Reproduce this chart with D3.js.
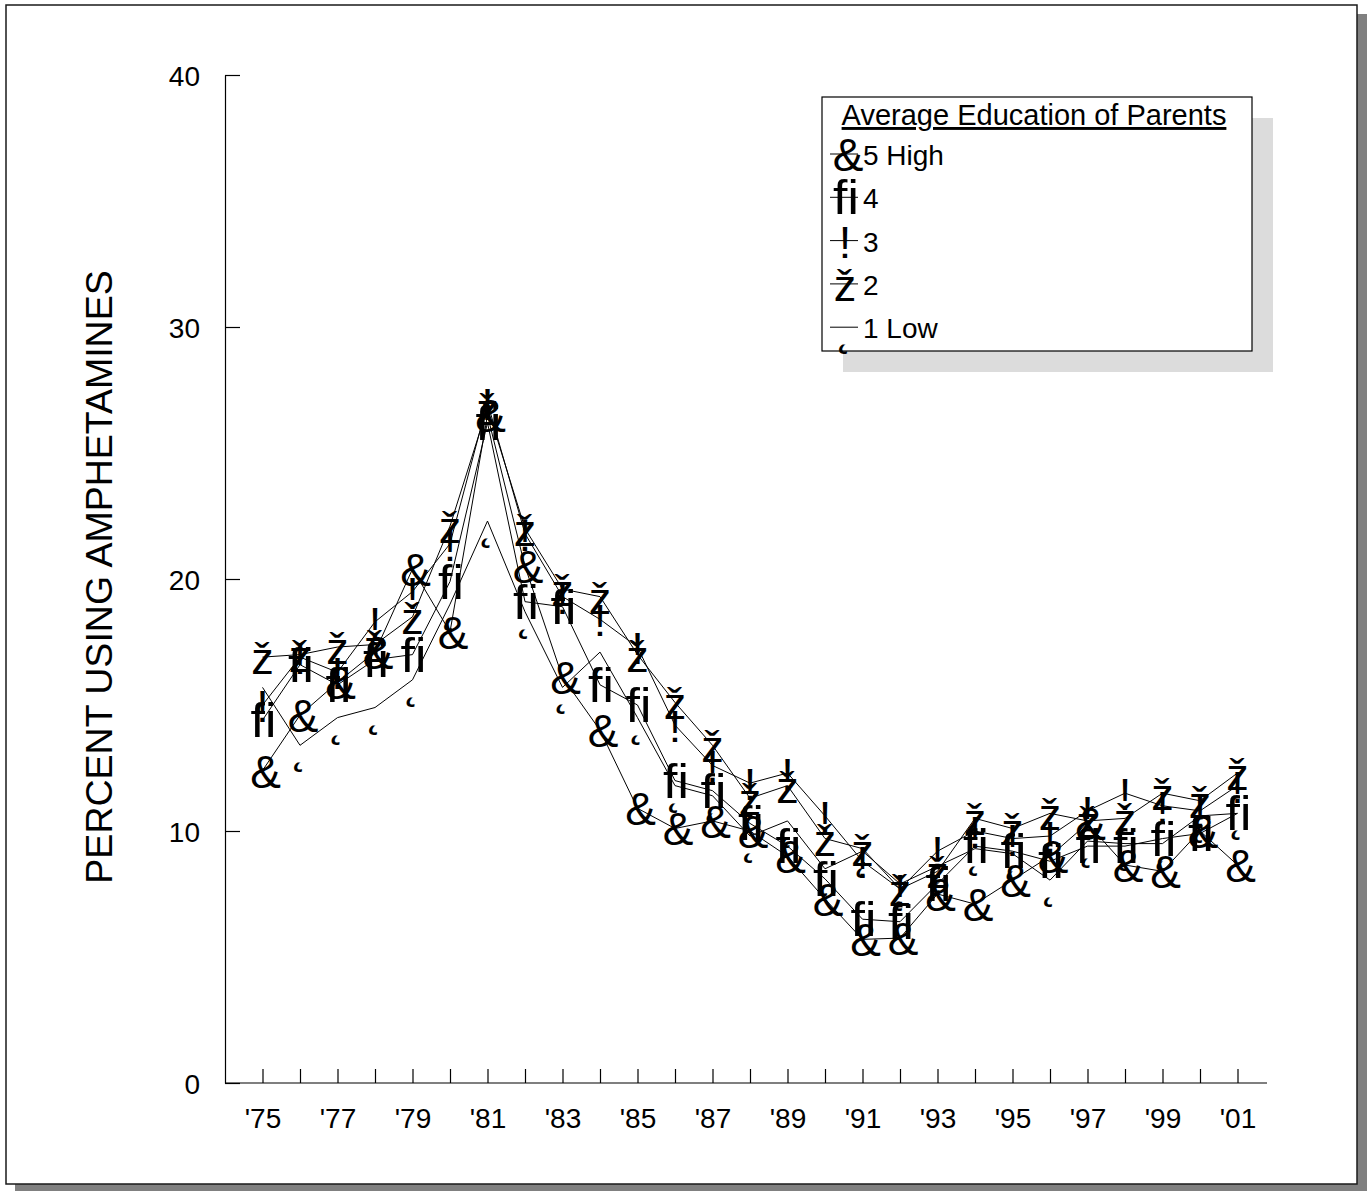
<!DOCTYPE html>
<html><head><meta charset="utf-8">
<script src="https://cdn.jsdelivr.net/npm/d3@7"></script>
<style>
body{margin:0;background:#fff}
svg{display:block;font-family:"Liberation Sans",Arial,Helvetica,sans-serif}
</style>
</head><body>
<svg id="chart" width="1367" height="1191"></svg>
<script>
// ---- data ----
const years = [1975,1976,1977,1978,1979,1980,1981,1982,1983,1984,1985,1986,1987,1988,1989,1990,1991,1992,1993,1994,1995,1996,1997,1998,1999,2000,2001];
const tickLabels = ["'75","'77","'79","'81","'83","'85","'87","'89","'91","'93","'95","'97","'99","'01"];
const labelYears = [1975,1977,1979,1981,1983,1985,1987,1989,1991,1993,1995,1997,1999,2001];
const yTicks = [0,10,20,30,40];
const seriesNames = ["5 High","4","3","2","1 Low"];
const seriesGlyphs = ["&","\uFB01","!","\u017E","\u02DB"];
const high5 = [12.4,14.6,15.9,17.1,20.4,17.9,26.5,20.5,16.1,14.0,10.9,10.1,10.4,10.0,9.0,7.3,5.7,5.75,7.5,7.1,8.05,9.0,10.3,8.65,8.4,10.0,8.65];
const ed4   = [14.4,16.6,15.8,16.8,17.0,19.9,26.2,19.1,18.9,15.8,15.0,12.0,11.6,10.3,9.4,8.1,6.5,6.4,7.9,9.4,9.2,8.8,9.4,9.4,9.7,9.9,10.7];
const ed3   = [15.0,16.9,16.3,18.3,19.5,21.4,27.0,21.8,19.3,18.4,17.3,14.2,12.6,11.9,12.3,10.6,8.8,7.7,9.2,10.0,9.7,9.8,10.8,11.5,11.0,10.8,11.8];
const ed2   = [16.9,17.0,17.3,17.4,18.5,22.1,26.8,22.0,19.6,19.3,17.0,15.1,13.4,11.3,11.8,9.7,9.3,7.7,8.4,10.5,10.1,10.7,10.4,10.5,11.5,11.2,12.3];
const low1  = [15.7,13.4,14.5,14.9,16.0,19.0,22.3,18.7,15.7,17.1,14.5,11.8,11.4,9.8,10.4,8.5,9.2,7.9,8.6,9.3,9.1,8.05,9.6,9.5,9.5,10.6,10.7];
const seriesValues = [high5, ed4, ed3, ed2, low1];
const yTitle = "PERCENT USING AMPHETAMINES";
const legendTitle = "Average Education of Parents";

// ---- drawing ----
const svg = d3.select("#chart");
// frame with shadow
svg.append("rect").attr("x",15).attr("y",14).attr("width",1352).attr("height",1177).attr("fill","#808080");
svg.append("rect").attr("x",6).attr("y",5).attr("width",1351).attr("height",1179)
  .attr("fill","#fff").attr("stroke","#1a1a1a").attr("stroke-width",1.5);

const x = d3.scaleLinear().domain([1974, 2002]).range([225, 1275]);
const y = d3.scaleLinear().domain([0, 40]).range([1083, 75]);

// y axis
const gy = svg.append("g").attr("transform","translate(225,0)")
  .call(d3.axisLeft(y).tickValues(yTicks).tickSizeInner(-15).tickSizeOuter(0).tickPadding(25));
gy.selectAll("path,line").attr("stroke","#000").attr("stroke-width",1.2);
gy.selectAll("text").attr("font-size",28).attr("fill","#000").attr("font-family","Liberation Sans, Arial, sans-serif").attr("dy","0.36em");

// x axis
const gx = svg.append("g").attr("transform","translate(0,1083)")
  .call(d3.axisBottom(x).tickValues(years).tickSizeInner(-14).tickSizeOuter(0).tickPadding(0)
    .tickFormat(d => { const i = labelYears.indexOf(d); return i >= 0 ? tickLabels[i] : ""; }));
gx.select(".domain").remove();
gx.selectAll("line").attr("stroke","#000").attr("stroke-width",1.2);
gx.selectAll("text").attr("font-size",28).attr("fill","#000").attr("font-family","Liberation Sans, Arial, sans-serif")
  .attr("y",45).attr("dy",0);
svg.append("line").attr("x1",x(1974)).attr("x2",1267).attr("y1",y(0)).attr("y2",y(0))
  .attr("stroke","#000").attr("stroke-width",1.2);

// y title
svg.append("text").attr("transform","translate(112,577) rotate(-90)")
  .attr("text-anchor","middle").attr("font-size",37.5).attr("fill","#000").text(yTitle);

// glyph styling
const glyphSize = [46, 48, 45, 45, 46];
const glyphDx = [3, 1, 0, 0, 0];
const glyphSx = [1, 1.08, 1, 1, 1];

// lines
const line = d3.line().x((d,i) => x(years[i])).y(d => y(d));
const plot = svg.append("g");
seriesValues.forEach(vals => {
  plot.append("path").attr("d", line(vals)).attr("fill","none").attr("stroke","#000").attr("stroke-width",1);
});
// markers (glyphs)
seriesValues.forEach((vals, s) => {
  plot.append("g").selectAll("text").data(vals).join("text")
    .attr("transform",(d,i) => `translate(${x(years[i]) + glyphDx[s]},${y(d) + 17}) scale(${glyphSx[s]},1)`)
    .attr("text-anchor","middle").attr("fill","#000").attr("font-size",glyphSize[s])
    .text(seriesGlyphs[s]);
});

// legend
const lg = svg.append("g");
lg.append("rect").attr("x",843).attr("y",118).attr("width",430).attr("height",254).attr("fill","#dcdcdc");
lg.append("rect").attr("x",822).attr("y",97).attr("width",430).attr("height",254)
  .attr("fill","#fff").attr("stroke","#000").attr("stroke-width",1.2);
lg.append("text").attr("x",1034).attr("y",125).attr("text-anchor","middle").attr("font-size",29)
  .attr("fill","#000").attr("text-decoration","underline").text(legendTitle);
seriesNames.forEach((name, s) => {
  const by = 165 + s * 43.3;
  const ly = by - 11;
  lg.append("line").attr("x1",830).attr("x2",858).attr("y1",ly).attr("y2",ly).attr("stroke","#000").attr("stroke-width",1);
  lg.append("text").attr("transform",`translate(${845 + glyphDx[s]},${ly + 17}) scale(${glyphSx[s]},1)`)
    .attr("text-anchor","middle").attr("fill","#000")
    .attr("font-size",glyphSize[s]).text(seriesGlyphs[s]);
  lg.append("text").attr("x",863).attr("y",by).attr("font-size",28).attr("fill","#000").text(name);
});
</script>
</body></html>
